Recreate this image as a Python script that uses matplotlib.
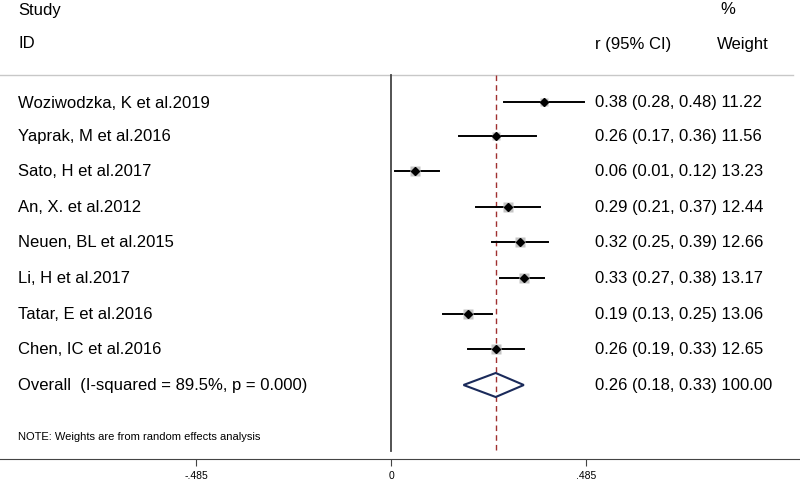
import matplotlib.pyplot as plt
from matplotlib.patches import Polygon

plt.rcParams['font.family'] = ['Liberation Sans', 'DejaVu Sans']

# study data
studies = ['Woziwodzka, K et al.2019', 'Yaprak, M et al.2016', 'Sato, H et al.2017',
           'An, X. et al.2012', 'Neuen, BL et al.2015', 'Li, H et al.2017',
           'Tatar, E et al.2016', 'Chen, IC et al.2016']
r = [0.38, 0.26, 0.06, 0.29, 0.32, 0.33, 0.19, 0.26]
lo = [0.28, 0.17, 0.01, 0.21, 0.25, 0.27, 0.13, 0.19]
hi = [0.48, 0.36, 0.12, 0.37, 0.39, 0.38, 0.25, 0.33]
weight = [11.22, 11.56, 13.23, 12.44, 12.66, 13.17, 13.06, 12.65]

overall_label = 'Overall  (I-squared = 89.5%, p = 0.000)'
overall = [0.26, 0.18, 0.33, 100.00]
ticks = [-0.485, 0, 0.485]
tick_labels = ['-.485', '0', '.485']

fig = plt.figure(figsize=(8, 4.85), dpi=100)
ax = fig.add_axes([0, 25 / 485, 1, 460 / 485])
ax.set_xlim(-0.973, 1.017)
ax.set_ylim(460, 0)

rows = [103, 137, 172, 208, 243, 279, 315, 350]
ov_y = 386
fs = 12
left = -0.973 + 18 / 402

# headers
ax.text(left, 10, 'Study', fontsize=fs, va='center')
ax.text(left, 44, 'ID', fontsize=fs, va='center')
ax.text(0.507, 44, 'r (95% CI)', fontsize=fs, va='center')
ax.text(0.82, 10, '%', fontsize=fs, va='center')
ax.text(0.81, 44, 'Weight', fontsize=fs, va='center')
ax.plot([-0.973, 1.0], [76, 76], color='#c8c8c8', lw=1)

# zero line and overall line
ax.plot([0, 0], [76, 452], color='#444444', lw=1.3)
ax.plot([overall[0], overall[0]], [76, 452], color='#a03030', lw=1, ls=(0, (4, 3)))

for i, y in enumerate(rows):
    ax.plot([lo[i], hi[i]], [y, y], color='black', lw=1.4, zorder=3)
    ax.plot(r[i], y, 's', color='#c4c4c4', ms=weight[i] * 0.55, zorder=3, mec='none')
    ax.plot(r[i], y, 'D', color='black', ms=3.8, zorder=4)
    ax.text(left, y, studies[i], fontsize=fs, va='center')
    ax.text(0.507, y, '%.2f (%.2f, %.2f) %.2f' % (r[i], lo[i], hi[i], weight[i]),
            fontsize=fs, va='center')

diamond = Polygon([[overall[1], ov_y], [overall[0], ov_y - 12],
                   [overall[2], ov_y], [overall[0], ov_y + 12]],
                  closed=True, fill=False, edgecolor='#1a2a5a', lw=1.5, zorder=4)
ax.add_patch(diamond)
ax.text(left, ov_y, overall_label, fontsize=fs, va='center')
ax.text(0.507, ov_y, '%.2f (%.2f, %.2f) %.2f' % tuple(overall), fontsize=fs, va='center')
ax.text(left, 437, 'NOTE: Weights are from random effects analysis', fontsize=8, va='center')

ax.set_xticks(ticks)
ax.set_xticklabels(tick_labels, fontsize=7.5)
ax.set_yticks([])
for s in ['top', 'left', 'right']:
    ax.spines[s].set_visible(False)
ax.spines['bottom'].set_color('#444444')
ax.tick_params(axis='x', length=5, color='#444444', pad=3)
ax.patch.set_visible(False)

fig.savefig('out.png', dpi=100)
